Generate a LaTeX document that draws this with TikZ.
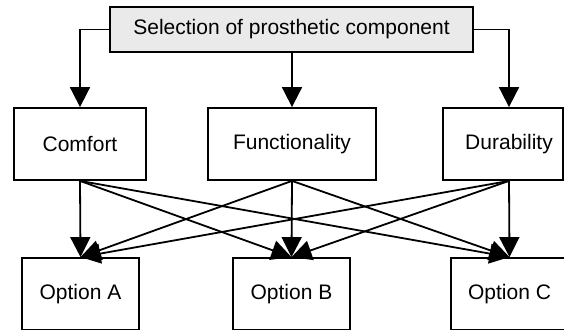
\documentclass[tikz,border=0pt]{standalone}
\usepackage{fontspec}
\setmainfont{Liberation Sans}
\usetikzlibrary{arrows.meta}
\definecolor{headfill}{RGB}{234,234,234}
\tikzset{
  box/.style={draw=black, line width=1.8pt, fill=white, minimum height=72pt,
              inner sep=0pt, font=\fontsize{21}{25}\selectfont},
  headbox/.style={box, fill=headfill, minimum height=45pt, minimum width=363pt},
  link/.style={line width=1.8pt, -{Triangle[length=20pt 0 0,width=20pt 0 0]}}
}
\begin{document}
\begin{tikzpicture}[x=1pt,y=-1pt]
  \clip (0,0) rectangle (564,329);

  % decision at the top
  \node[headbox] (sel) at (291.5,29.5) {Selection of prosthetic component};

  % criteria
  \node[box, minimum width=132pt] (com) at (80,144) {Comfort};
  \node[box, minimum width=168pt] (fun) at (292,144) {Functionality};
  \node[box, minimum width=120pt] (dur) at (503,144) {\hspace*{12pt}Durability};
  \coordinate (durN) at ([xshift=6pt]dur.north);
  \coordinate (durS) at ([xshift=6pt]dur.south);

  % options
  \node[box, minimum width=117pt] (oa) at (80.5,294) {Option A};
  \node[box, minimum width=117pt] (ob) at (291.5,294) {Option B};
  \node[box, minimum width=117pt] (oc) at (509.5,294) {Option C};

  % decision to criteria
  \draw[link] (sel.west) -| (com.north);
  \draw[link] (sel.south -| fun.north) -- (fun.north);
  \draw[link] (sel.east) -| (durN);

  % criteria to options
  \foreach \src in {com, fun, durS} {
    \draw[link] (\src.south) -- (oa.north);
    \draw[link] (\src.south) -- (ob.north);
    \draw[link] (\src.south) -- (oc.north);
  }
\end{tikzpicture}
\end{document}
